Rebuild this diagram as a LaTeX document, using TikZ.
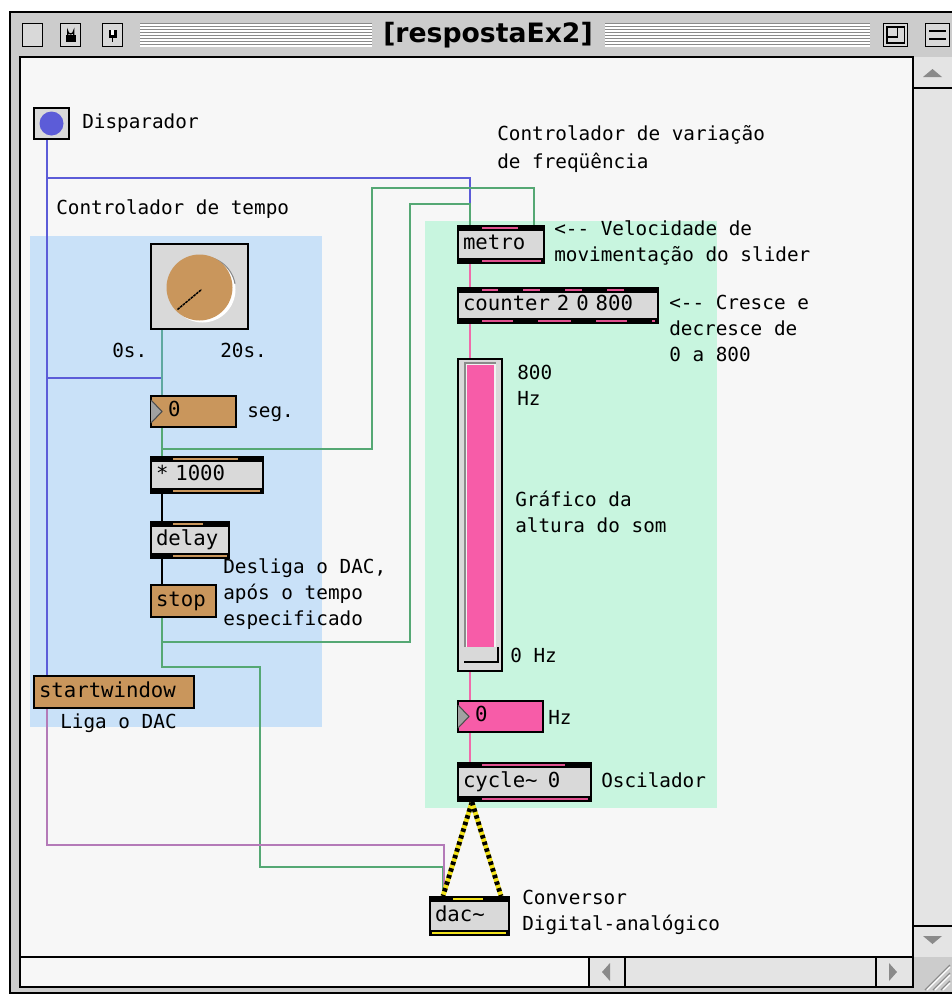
\documentclass[tikz,border=0pt]{standalone}
\usepackage{fontspec}
\setmonofont{DejaVu Sans Mono}
\newfontfamily\titlefont{DejaVu Sans}
\usetikzlibrary{calc}

\definecolor{framegray}{HTML}{CCCCCC}
\definecolor{canvas}{HTML}{F7F7F7}
\definecolor{trackgray}{HTML}{E4E4E4}
\definecolor{zoneblue}{HTML}{C9E1F8}
\definecolor{zonemint}{HTML}{C8F5DF}
\definecolor{boxgray}{HTML}{D9D9D9}
\definecolor{msgorange}{HTML}{C9965C}
\definecolor{numpink}{HTML}{F75CA8}
\definecolor{cordblue}{HTML}{5C5CD8}
\definecolor{cordgreen}{HTML}{55A874}
\definecolor{cordteal}{HTML}{5FA8A0}
\definecolor{cordpurple}{HTML}{B47AB8}
\definecolor{cordpink}{HTML}{F06AAA}
\definecolor{strippink}{HTML}{E0508F}
\definecolor{sigyellow}{HTML}{F2E21A}
\definecolor{stripe}{HTML}{8A8A8A}

\pgfdeclarelayer{backdrop}
\pgfdeclarelayer{cords}
\pgfsetlayers{backdrop,cords,main}

% black inlet/outlet bars of an object box
\newcommand\objbars[1]{%
  \fill[black] (#1.north west) rectangle ($(#1.north east)+(0,6)$);
  \fill[black] ($(#1.south west)+(0,-6)$) rectangle (#1.south east);}
% coloured port strips inside the bars
\newcommand\topstrip[4]{\draw[line width=1.6pt,#1] ($(#2.north west)+(#3,3)$) -- ++(#4,0);}
\newcommand\botstrip[4]{\draw[line width=1.6pt,#1] ($(#2.south west)+(#3,-3)$) -- ++(#4,0);}

\begin{document}
\begin{tikzpicture}[x=0.75pt,y=-0.75pt,
  lbl/.style={font=\ttfamily\fontsize{14.5}{19.5}\selectfont, inner sep=0pt, anchor=west, align=left},
  objbox/.style={font=\ttfamily\fontsize{15.5}{18}\selectfont, text height=11pt, text depth=3pt,
    draw=black, line width=1.5pt, fill=boxgray, anchor=north west, inner xsep=3.75pt, inner ysep=0pt, align=left},
  msgbox/.style={objbox, fill=msgorange},
  numbox/.style={objbox, inner xsep=12.75pt},
  cord/.style={line width=1.1pt},
  sigcord/.style={line width=3.6pt, sigyellow},
  sigdash/.style={line width=3.6pt, black, dash pattern=on 2.6pt off 2.6pt},
  winbtn/.style={draw=black, line width=1pt, fill=boxgray}
]
\useasboundingbox (0,0) rectangle (952,996);

\begin{pgfonlayer}{backdrop}
\fill[white] (0,0) rectangle (952,996);

% ---------- window frame ----------
\fill[framegray] (10,12) rectangle (970,993);
\draw[black, line width=1.2pt] (10,12) rectangle (970,993);

% title bar stripes
\foreach \yy in {24,27,...,45} {
  \draw[stripe, line width=0.9pt] (140,\yy) -- (372,\yy);
  \draw[white, line width=0.9pt] (140,\yy+1) -- (372,\yy+1);
  \draw[stripe, line width=0.9pt] (605,\yy) -- (870,\yy);
  \draw[white, line width=0.9pt] (605,\yy+1) -- (870,\yy+1);
}

% ---------- canvas and scroll bars ----------
\fill[canvas] (20,57) rectangle (913,957);
\fill[trackgray] (913,57) rectangle (970,957);
\draw[black, line width=1pt] (913,88) -- (970,88);
\draw[black, line width=1pt] (913,926) -- (970,926);
\fill[stripe] (923,77) -- (942,77) -- (932.5,69) -- cycle;
\fill[stripe] (923,936) -- (942,936) -- (932.5,944) -- cycle;
\fill[canvas] (20,957) rectangle (589,987);
\fill[trackgray] (589,957) rectangle (913,987);
\draw[black, line width=1pt] (625,957) -- (625,987);
\draw[black, line width=1pt] (876,957) -- (876,987);
\fill[stripe] (602,972) -- (610,963) -- (610,981) -- cycle;
\fill[stripe] (897,972) -- (889,963) -- (889,981) -- cycle;
\draw[black, line width=1pt] (589,957) -- (589,987);
\draw[black, line width=1.2pt] (20,57) rectangle (913,957);
\draw[black, line width=1.2pt] (20,957) rectangle (913,987);
\draw[black, line width=1pt] (913,57) -- (913,987);
\foreach \d in {0,8,16} {
  \draw[stripe, line width=1pt] (925+\d,990) -- (950,965+\d);
  \draw[white, line width=1pt] (927+\d,990) -- (950,967+\d);
}

% ---------- grouping zones ----------
\fill[zoneblue] (30,236) rectangle (322,727);
\fill[zonemint] (425,221) rectangle (717,808);
\end{pgfonlayer}

\node[font=\titlefont\bfseries\fontsize{20}{24}\selectfont, inner sep=0pt] (title) at (488,35) {[respostaEx2]};

% title bar buttons
\node[winbtn, minimum width=15pt, minimum height=17pt, inner sep=0pt, anchor=north west] (closebtn) at (22,23) {};
\node[winbtn, minimum width=15pt, minimum height=17pt, inner sep=0pt, anchor=north west] (lockbtn) at (60,23) {};
\fill[black] ($(lockbtn.center)+(-5,0)$) rectangle ($(lockbtn.center)+(5,7)$);
\draw[black, line width=1pt] ($(lockbtn.center)+(-3,0)$) -- ++(0,-4) arc (180:0:3) -- ++(0,4);
\node[winbtn, minimum width=15pt, minimum height=17pt, inner sep=0pt, anchor=north west] (pinbtn) at (102,23) {};
\fill[black] ($(pinbtn.center)+(-4,-5)$) rectangle ($(pinbtn.center)+(4,3)$);
\fill[white] ($(pinbtn.center)+(-1.5,-5)$) rectangle ($(pinbtn.center)+(1.5,0)$);
\draw[black, line width=1pt] ($(pinbtn.center)+(0,3)$) -- ++(0,4);
\node[winbtn, minimum width=18pt, minimum height=17pt, inner sep=0pt, anchor=north west] (zoombtn) at (883,23) {};
\draw[black, line width=1pt] ($(zoombtn.north west)+(4,4)$) rectangle ($(zoombtn.south east)+(-4,-4)$);
\draw[black, line width=1pt] ($(zoombtn.center)+(-8,2)$) -- ($(zoombtn.center)+(2,2)$) -- ($(zoombtn.center)+(2,-8)$);
\node[winbtn, minimum width=18pt, minimum height=17pt, inner sep=0pt, anchor=north west] (shadebtn) at (925,23) {};
\draw[black, line width=1pt] ($(shadebtn.west)+(4,-4)$) -- ($(shadebtn.east)+(-4,-4)$);
\draw[black, line width=1pt] ($(shadebtn.west)+(4,4)$) -- ($(shadebtn.east)+(-4,4)$);

% ---------- boxes ----------
% bang button
\node[draw=black, line width=1.5pt, fill=boxgray, minimum width=26.25pt, minimum height=23.25pt,
  inner sep=0pt, anchor=north west] (disp) at (33,107) {};
\fill[cordblue] (disp.center) circle (12);

% dial
\node[draw=black, line width=1.5pt, fill=boxgray, minimum width=72.75pt, minimum height=63.75pt,
  inner sep=0pt, anchor=north west] (dial) at (150,243) {};
\fill[white] ($(dial.center)+(3,3)$) circle (33);
\draw[stripe, line width=0.8pt] ($(dial.center)+(3,3)+(-10:33)$) arc (-10:-100:33);
\fill[msgorange] ($(dial.center)+(0,1)$) circle (33);
\draw[black, line width=1.1pt, dash pattern=on 2pt off 0.6pt] ($(dial.center)+(-22,23)$) -- ($(dial.center)+(2,3)$);

% number boxes
\node[numbox, fill=msgorange, text width=38.25pt, minimum height=23.25pt] (num1) at (150,395) {0};
\node[numbox, fill=numpink, text width=38.25pt, minimum height=23.25pt] (num2) at (457,700) {0};
\foreach \n in {num1,num2} {
  \fill[stripe!80] ($(\n.north west)+(1,5)$) -- ($(\n.west)+(12,0)$) -- ($(\n.south west)+(1,-5)$) -- cycle;
  \draw[black!70, line width=0.8pt] ($(\n.north west)+(1,5)$) -- ($(\n.west)+(12,0)$) -- ($(\n.south west)+(1,-5)$);
}

% objects
\node[objbox, text width=76.5pt, minimum height=27pt] (mul) at (150,456) {* 1000};
\node[objbox, text width=51pt, minimum height=27pt] (delay) at (150,521) {delay};
\node[msgbox, text width=41.25pt, minimum height=24pt] (stop) at (150,584) {stop};
\node[msgbox, text width=112.5pt, minimum height=24pt] (startwin) at (33,675) {startwindow};
\node[objbox, text width=57pt, minimum height=27.75pt] (metro) at (457,225) {metro};
\node[objbox, text width=142.5pt, minimum height=26.25pt] (counter) at (457,287) {counter 2 0 800};
\node[objbox, text width=92.25pt, minimum height=28.5pt] (cycle) at (457,762) {cycle\textasciitilde\ \,0};
\node[objbox, text width=51.75pt, minimum height=28.5pt] (dac) at (429,896) {dac\textasciitilde};

\objbars{mul}\objbars{delay}\objbars{metro}\objbars{counter}\objbars{cycle}\objbars{dac}
\topstrip{msgorange}{mul}{23}{65}\botstrip{msgorange}{mul}{23}{87}
\topstrip{msgorange}{delay}{23}{30}\botstrip{msgorange}{delay}{23}{54}
\topstrip{strippink}{metro}{25}{36}\botstrip{strippink}{metro}{25}{59}
\topstrip{strippink}{counter}{25}{16}\topstrip{strippink}{counter}{66}{17}
\topstrip{strippink}{counter}{108}{17}\topstrip{strippink}{counter}{150}{17}
\botstrip{strippink}{counter}{25}{31}\botstrip{strippink}{counter}{81}{33}
\botstrip{strippink}{counter}{139}{31}\botstrip{strippink}{counter}{195}{3}
\topstrip{strippink}{cycle}{25}{83}\botstrip{strippink}{cycle}{25}{106}
\topstrip{sigyellow}{dac}{24}{30}\botstrip{sigyellow}{dac}{3}{74}

% slider
\node[draw=black, line width=1.5pt, fill=boxgray, minimum width=33pt, minimum height=234pt,
  inner sep=0pt, anchor=north west] (slider) at (457,358) {};
\fill[white!90!gray] ($(slider.north west)+(8,5)$) rectangle ($(slider.south east)+(-7,-10)$);
\fill[numpink] ($(slider.north west)+(10,7)$) rectangle ($(slider.south east)+(-9,-25)$);
\draw[stripe, line width=0.8pt] ($(slider.south west)+(8,-10)$) |- ($(slider.north east)+(-7,5)$);
\fill[boxgray] ($(slider.south west)+(7,-25)$) rectangle ($(slider.south east)+(-5,-10)$);
\draw[black, line width=1pt] ($(slider.south west)+(7,-10)$) -- ($(slider.south east)+(-5,-10)$) -- ($(slider.south east)+(-5,-25)$);

% ---------- port coordinates ----------
\coordinate (dispOut) at ($(disp.south west)+(14,0)$);
\coordinate (startIn) at ($(startwin.north west)+(14,0)$);
\coordinate (startOut) at ($(startwin.south west)+(14,0)$);
\coordinate (dialOut) at ($(dial.south west)+(12,0)$);
\coordinate (num1In) at ($(num1.north west)+(12,0)$);
\coordinate (num1Out) at ($(num1.south west)+(12,0)$);
\coordinate (mulIn) at ($(mul.north west)+(12,0)$);
\coordinate (mulOut) at ($(mul.south west)+(12,0)$);
\coordinate (delayIn) at ($(delay.north west)+(12,0)$);
\coordinate (delayOut) at ($(delay.south west)+(12,0)$);
\coordinate (stopIn) at ($(stop.north west)+(12,0)$);
\coordinate (stopOut) at ($(stop.south west)+(12,0)$);
\coordinate (metroIn1) at ($(metro.north west)+(13,0)$);
\coordinate (metroIn2) at ($(metro.north east)+(-11,0)$);
\coordinate (metroOut) at ($(metro.south west)+(13,0)$);
\coordinate (counterIn) at ($(counter.north west)+(13,0)$);
\coordinate (counterOut) at ($(counter.south west)+(13,0)$);
\coordinate (sliderIn) at ($(slider.north west)+(13,0)$);
\coordinate (sliderOut) at ($(slider.south west)+(13,0)$);
\coordinate (num2In) at ($(num2.north west)+(13,0)$);
\coordinate (num2Out) at ($(num2.south west)+(13,0)$);
\coordinate (cycleIn) at ($(cycle.north west)+(13,0)$);
\coordinate (cycleOut) at ($(cycle.south west)+(15,0)$);
\coordinate (dacInL) at ($(dac.north west)+(14,0)$);
\coordinate (dacInR) at ($(dac.north east)+(-9,0)$);

% ---------- patch cords (under the boxes) ----------
\begin{pgfonlayer}{cords}
\draw[cord, cordblue] (dispOut) -- (startIn);
\draw[cord, cordblue] (dispOut) |- ($(metroIn1)+(0,-47)$) -- (metroIn1);
\draw[cord, cordblue] (dispOut) |- ($(num1In)+(0,-17)$) -- (num1In);
\draw[cord, cordteal] (dialOut) -- (num1In);
\draw[cord, cordgreen] (num1Out) -- (mulIn);
\draw[cord, cordgreen] (num1Out) -- ++(0,21) -- ++(210,0) |- ($(metroIn2)+(0,-37)$) -- (metroIn2);
\draw[cord, cordgreen] (stopOut) -- ++(0,24) -- ++(248,0) |- ($(metroIn1)+(0,-21)$) -- (metroIn1);
\draw[cord, cordgreen] (stopOut) -- ++(0,49) -- ++(98,0) |- ($(dacInL)+(0,-29)$) -- (dacInL);
\draw[cord, cordpurple] (startOut) |- ($(dacInL)+(1,-51)$) -- ($(dacInL)+(1,0)$);
\draw[cord, black] (mulOut) -- (delayIn);
\draw[cord, black] (delayOut) -- (stopIn);
\draw[cord, cordpink] (metroOut) -- (counterIn);
\draw[cord, cordpink] (counterOut) -- (sliderIn);
\draw[cord, cordpink] (sliderOut) -- (num2In);
\draw[cord, cordpink] (num2Out) -- (cycleIn);
\draw[sigcord] (cycleOut) -- (dacInL);
\draw[sigdash] (cycleOut) -- (dacInL);
\draw[sigcord] (cycleOut) -- (dacInR);
\draw[sigdash] (cycleOut) -- (dacInR);
\end{pgfonlayer}

% ---------- comments ----------
\node[lbl] (tDisp) at (82,123) {Disparador};
\node[lbl, font=\ttfamily\fontsize{14.5}{21}\selectfont] (tFreq) at (497,149) {Controlador de variação\\de freqüência};
\node[lbl] (tTempo) at (56,209) {Controlador de tempo};
\node[lbl] (tVel) at (554,243) {<-{}- Velocidade de\\movimentação do slider};
\node[lbl] (tCresce) at (669,328) {<-{}- Cresce e\\decresce de\\0 a 800};
\node[lbl] (t0s) at (112,350) {0s.};
\node[lbl] (t20s) at (220,350) {20s.};
\node[lbl] (tMax) at (517,385) {800\\Hz};
\node[lbl] (tSeg) at (247,414) {seg.};
\node[lbl] (tGraf) at (515,512) {Gráfico da\\altura do som};
\node[lbl] (tDesl) at (223,594) {Desliga o DAC,\\após o tempo\\especificado};
\node[lbl] (tZero) at (510,655) {0 Hz};
\node[lbl] (tHz) at (548,717) {Hz};
\node[lbl] (tLiga) at (60,723) {Liga o DAC};
\node[lbl] (tOsc) at (601,780) {Oscilador};
\node[lbl] (tConv) at (522,912) {Conversor\\Digital-analógico};
\end{tikzpicture}
\end{document}
